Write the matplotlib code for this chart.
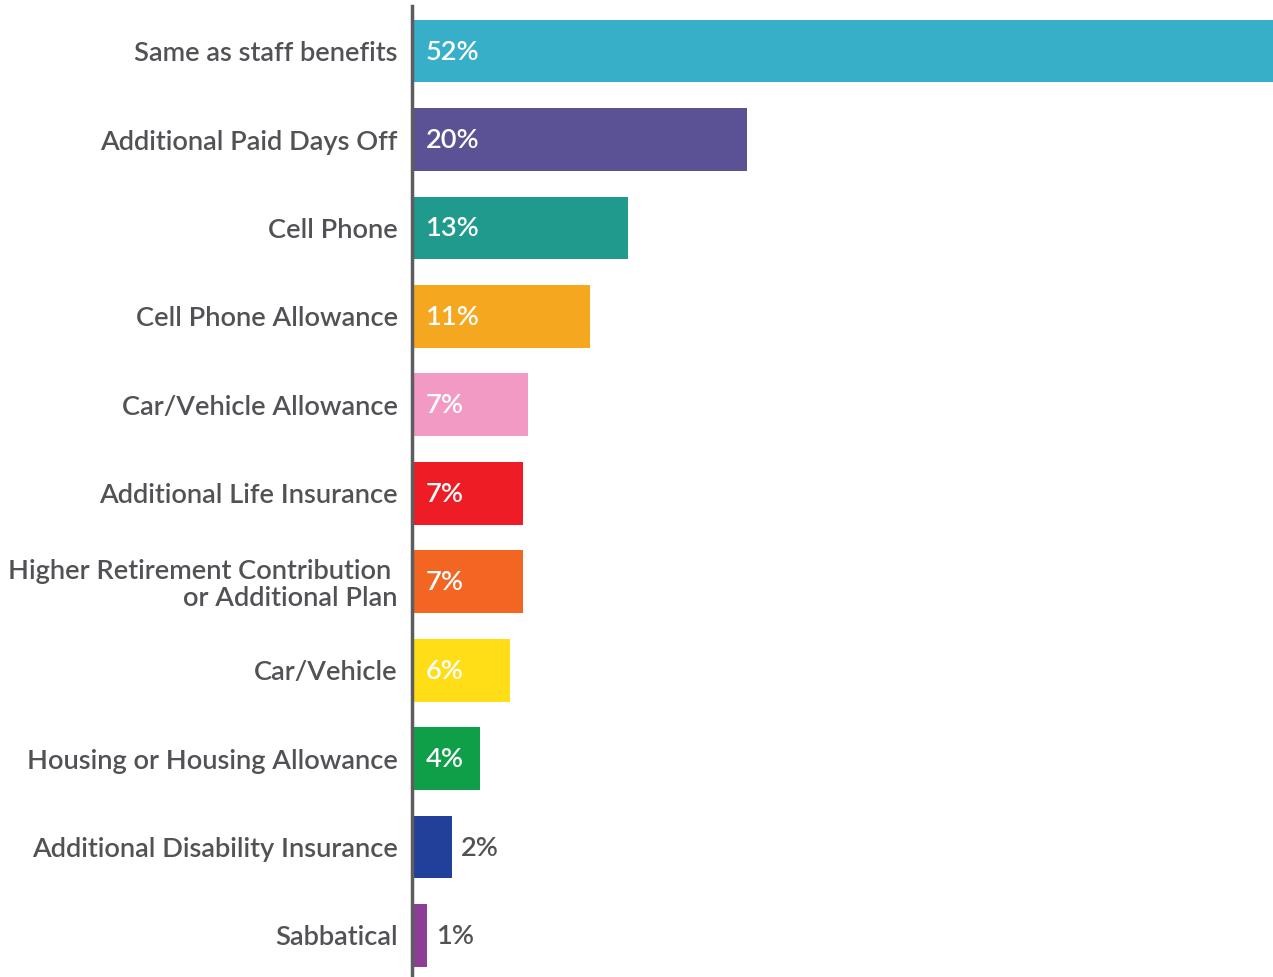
import matplotlib.pyplot as plt
from matplotlib.transforms import offset_copy

categories = [
    "Same as staff benefits",
    "Additional Paid Days Off",
    "Cell Phone",
    "Cell Phone Allowance",
    "Car/Vehicle Allowance",
    "Additional Life Insurance",
    "Higher Retirement Contribution \nor Additional Plan",
    "Car/Vehicle",
    "Housing or Housing Allowance",
    "Additional Disability Insurance",
    "Sabbatical",
]
values = [52, 20.2, 13, 10.7, 7, 6.7, 6.7, 5.9, 4.1, 2.4, 0.9]
value_labels = ["52%", "20%", "13%", "11%", "7%", "7%", "7%", "6%", "4%", "2%", "1%"]
colors = ["#38afc8", "#5a5295", "#1f9a8c", "#f5a81f", "#f39ac4", "#ee1c25",
          "#f26522", "#ffde17", "#0f9f48", "#21409a", "#8e3d97"]
inside = [True] * 9 + [False] * 2

text_color = "#505255"
plt.rcParams['font.family'] = ['Lato', 'DejaVu Sans']
weight = 'semibold'

fig = plt.figure(figsize=(12.73, 9.77), dpi=100)
ax = fig.add_axes([412.5 / 1273, 0, 860.5 / 1273, 971 / 977])

y = list(range(len(categories)))
ax.barh(y, values, height=0.71, color=colors, zorder=2)
ax.set_xlim(0, 52)
ax.set_ylim(10.47, -0.51)

ax.set_yticks(y)
ax.set_yticklabels(categories, fontsize=19.6, color=text_color,
                   linespacing=1.1, fontweight=weight)
ax.tick_params(axis='y', length=0, pad=10.5)
ax.set_xticks([])

for s in ['top', 'right', 'bottom']:
    ax.spines[s].set_visible(False)
ax.spines['left'].set_color('#5d5d5f')
ax.spines['left'].set_linewidth(2.5)
ax.spines['left'].set_zorder(3)

for i, (v, lab, ins) in enumerate(zip(values, value_labels, inside)):
    if ins:
        tr = offset_copy(ax.transData, fig=fig, x=13, y=-1, units='dots')
        ax.text(0, i, lab, transform=tr, ha='left', va='center',
                fontsize=19.6, color='white', fontweight=weight, zorder=4)
    else:
        tr = offset_copy(ax.transData, fig=fig, x=9, y=-1, units='dots')
        ax.text(v, i, lab, transform=tr, ha='left', va='center',
                fontsize=19.6, color=text_color, fontweight=weight, zorder=4)

fig.savefig("out.png", dpi=100)
